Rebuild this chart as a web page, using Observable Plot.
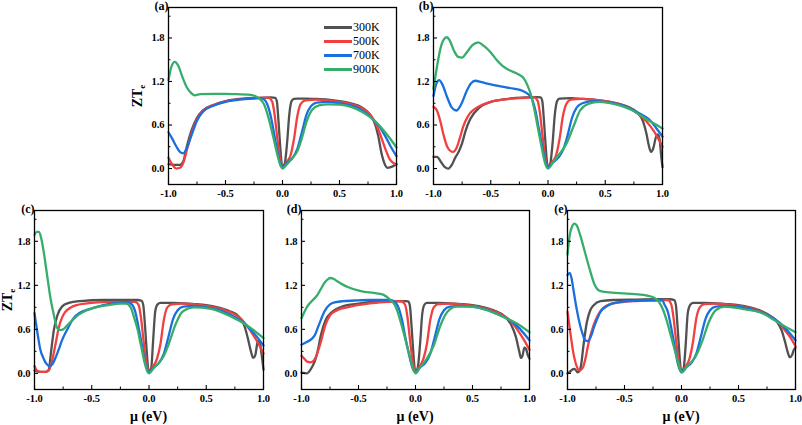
<!DOCTYPE html>
<html><head><meta charset="utf-8">
<script src="https://cdn.jsdelivr.net/npm/d3@7"></script>
<script src="https://cdn.jsdelivr.net/npm/@observablehq/plot@0.6"></script>
<style>
body{margin:0;background:#fff;}
#fig{position:relative;width:802px;height:425px;overflow:hidden;font-family:"Liberation Serif","Times New Roman",serif;color:#000;}
#fig svg{position:absolute;}
.plab{position:absolute;font-weight:bold;font-size:12px;line-height:1;transform:translate(-100%,-50%);}
.ytitle{position:absolute;font-weight:bold;font-size:14px;line-height:1;white-space:nowrap;transform:translate(-50%,-50%) rotate(-90deg);}
.ytitle sub{font-size:9px;vertical-align:-3px;}
.xtitle{position:absolute;font-weight:bold;font-size:14px;line-height:1;white-space:nowrap;transform:translate(-50%,-50%);}
.legend{position:absolute;font-size:12px;font-family:"Liberation Serif","Times New Roman",serif;}
.legend .row{display:flex;align-items:center;height:14.2px;}
.legend .sw{width:28px;height:3px;margin-right:1px;}
</style></head><body><div id="fig"></div>
<script>
const temps = ["300K", "500K", "700K", "900K"];
const colors = ["#515151", "#F14040", "#1A6FDF", "#37AD6B"];
const xTicks = [-1, -0.5, 0, 0.5, 1];
const xMinor = [-0.75, -0.25, 0.25, 0.75];
const yTicks = [0, 0.6, 1.2, 1.8];
const yMinor = [0.3, 0.9, 1.5, 2.1];
const yDomain = [-0.22, 2.22];
const panelNames = ["(a)", "(b)", "(c)", "(d)", "(e)"];

// ---- panel (a) ----
const a300 = [[-1,0.06],[-0.95,0.05],[-0.9,0.05],[-0.87,0.1],[-0.84,0.3],[-0.8,0.52],[-0.75,0.7],[-0.7,0.8],[-0.6,0.88],[-0.5,0.93],[-0.4,0.955],[-0.3,0.97],[-0.2,0.975],[-0.1,0.98],[-0.065,0.975],[-0.05,0.93],[-0.035,0.65],[-0.02,0.3],[-0.007,0.06],[0,0.02],[0.02,0.07],[0.04,0.35],[0.06,0.75],[0.08,0.93],[0.1,0.96],[0.13,0.965],[0.2,0.965],[0.3,0.96],[0.4,0.95],[0.5,0.93],[0.6,0.9],[0.7,0.84],[0.76,0.76],[0.8,0.66],[0.84,0.45],[0.87,0.2],[0.9,0.05],[0.92,0.01],[0.95,0.02],[1,0.06]];
const a500 = [[-1,0.15],[-0.97,0.06],[-0.93,0.0],[-0.9,0.01],[-0.87,0.08],[-0.84,0.25],[-0.8,0.48],[-0.75,0.68],[-0.7,0.79],[-0.6,0.88],[-0.5,0.925],[-0.4,0.95],[-0.3,0.965],[-0.2,0.975],[-0.12,0.975],[-0.09,0.92],[-0.07,0.75],[-0.05,0.48],[-0.03,0.22],[-0.01,0.05],[0,0.02],[0.03,0.08],[0.07,0.18],[0.1,0.4],[0.13,0.72],[0.16,0.89],[0.2,0.94],[0.3,0.95],[0.4,0.94],[0.5,0.92],[0.6,0.89],[0.7,0.83],[0.76,0.76],[0.8,0.67],[0.85,0.5],[0.9,0.28],[0.94,0.13],[0.97,0.08],[1,0.06]];
const a700 = [[-1,0.5],[-0.97,0.42],[-0.93,0.3],[-0.9,0.23],[-0.87,0.21],[-0.84,0.28],[-0.8,0.45],[-0.75,0.66],[-0.7,0.78],[-0.6,0.87],[-0.5,0.92],[-0.4,0.945],[-0.3,0.96],[-0.2,0.97],[-0.16,0.95],[-0.13,0.87],[-0.1,0.7],[-0.07,0.45],[-0.04,0.2],[-0.015,0.05],[0,0.02],[0.04,0.08],[0.09,0.15],[0.13,0.27],[0.17,0.5],[0.21,0.74],[0.25,0.86],[0.3,0.91],[0.4,0.92],[0.5,0.9],[0.6,0.87],[0.7,0.8],[0.8,0.67],[0.85,0.58],[0.9,0.45],[0.95,0.3],[1,0.17]];
const a900 = [[-1,1.22],[-0.975,1.4],[-0.945,1.47],[-0.915,1.42],[-0.88,1.27],[-0.84,1.12],[-0.8,1.04],[-0.77,1.01],[-0.72,1.025],[-0.6,1.03],[-0.5,1.03],[-0.4,1.025],[-0.3,1.02],[-0.24,1.0],[-0.2,0.96],[-0.16,0.88],[-0.13,0.74],[-0.1,0.56],[-0.07,0.36],[-0.04,0.16],[-0.015,0.03],[0,0.0],[0.04,0.06],[0.09,0.15],[0.13,0.24],[0.17,0.42],[0.21,0.64],[0.26,0.81],[0.32,0.87],[0.4,0.885],[0.5,0.88],[0.6,0.85],[0.7,0.78],[0.8,0.67],[0.9,0.5],[0.95,0.4],[1,0.29]];

// ---- panel (b) ----
const b300 = [[-1,0.16],[-0.97,0.16],[-0.93,0.08],[-0.9,0.02],[-0.87,0.0],[-0.84,0.05],[-0.81,0.15],[-0.78,0.23],[-0.75,0.35],[-0.72,0.52],[-0.68,0.68],[-0.6,0.84],[-0.5,0.92],[-0.4,0.95],[-0.3,0.97],[-0.2,0.98],[-0.1,0.985],[-0.065,0.98],[-0.05,0.93],[-0.035,0.65],[-0.02,0.3],[-0.007,0.06],[0,0.02],[0.02,0.07],[0.04,0.35],[0.06,0.75],[0.08,0.93],[0.1,0.965],[0.2,0.97],[0.3,0.96],[0.4,0.95],[0.5,0.93],[0.6,0.9],[0.7,0.85],[0.78,0.77],[0.83,0.65],[0.86,0.48],[0.88,0.32],[0.9,0.23],[0.92,0.28],[0.94,0.42],[0.96,0.47],[0.975,0.4],[0.99,0.15],[1,0.02]];
const b500 = [[-1,0.85],[-0.97,0.8],[-0.94,0.65],[-0.91,0.45],[-0.88,0.3],[-0.85,0.24],[-0.83,0.23],[-0.8,0.28],[-0.77,0.42],[-0.74,0.58],[-0.7,0.72],[-0.65,0.81],[-0.6,0.86],[-0.5,0.92],[-0.4,0.95],[-0.3,0.965],[-0.2,0.975],[-0.12,0.98],[-0.09,0.93],[-0.07,0.76],[-0.05,0.48],[-0.03,0.22],[-0.01,0.05],[0,0.02],[0.03,0.08],[0.07,0.18],[0.1,0.4],[0.13,0.72],[0.16,0.89],[0.2,0.95],[0.3,0.96],[0.4,0.95],[0.5,0.93],[0.6,0.9],[0.7,0.84],[0.8,0.74],[0.86,0.65],[0.9,0.57],[0.95,0.45],[1,0.3]];
const b700 = [[-1,1.0],[-0.975,1.17],[-0.95,1.22],[-0.92,1.15],[-0.88,0.98],[-0.84,0.84],[-0.8,0.8],[-0.76,0.88],[-0.71,1.07],[-0.67,1.18],[-0.635,1.21],[-0.58,1.19],[-0.5,1.16],[-0.4,1.13],[-0.3,1.1],[-0.22,1.07],[-0.17,1.02],[-0.14,0.96],[-0.11,0.8],[-0.08,0.55],[-0.05,0.3],[-0.02,0.08],[0,0.02],[0.04,0.08],[0.09,0.15],[0.13,0.25],[0.17,0.45],[0.21,0.7],[0.25,0.84],[0.3,0.9],[0.4,0.93],[0.5,0.92],[0.6,0.89],[0.7,0.84],[0.8,0.76],[0.88,0.68],[0.94,0.57],[1,0.44]];
const b900 = [[-1,1.1],[-0.97,1.4],[-0.94,1.65],[-0.91,1.78],[-0.885,1.81],[-0.86,1.77],[-0.82,1.62],[-0.785,1.54],[-0.75,1.53],[-0.71,1.6],[-0.66,1.7],[-0.61,1.74],[-0.56,1.69],[-0.5,1.6],[-0.45,1.5],[-0.4,1.42],[-0.33,1.35],[-0.26,1.3],[-0.21,1.24],[-0.18,1.15],[-0.15,1.02],[-0.12,0.82],[-0.1,0.66],[-0.075,0.45],[-0.05,0.25],[-0.025,0.07],[0,0.0],[0.05,0.1],[0.1,0.2],[0.16,0.34],[0.22,0.57],[0.28,0.8],[0.35,0.89],[0.45,0.92],[0.6,0.88],[0.74,0.8],[0.86,0.68],[0.95,0.6],[1,0.55]];

// ---- panel (c) ----
const c300 = [[-1,0.04],[-0.95,0.02],[-0.9,0.02],[-0.875,0.05],[-0.855,0.3],[-0.83,0.6],[-0.8,0.79],[-0.76,0.91],[-0.7,0.96],[-0.6,0.985],[-0.4,1.0],[-0.2,1.0],[-0.1,1.0],[-0.065,0.99],[-0.05,0.93],[-0.035,0.65],[-0.02,0.3],[-0.007,0.06],[0,0.02],[0.02,0.08],[0.035,0.42],[0.055,0.85],[0.075,0.94],[0.1,0.96],[0.2,0.96],[0.3,0.955],[0.4,0.945],[0.5,0.93],[0.6,0.9],[0.7,0.85],[0.78,0.78],[0.83,0.66],[0.86,0.5],[0.89,0.3],[0.91,0.21],[0.93,0.26],[0.95,0.44],[0.965,0.45],[0.98,0.3],[1,0.05]];
const c500 = [[-1,0.1],[-0.98,0.04],[-0.95,0.02],[-0.9,0.02],[-0.875,0.04],[-0.85,0.15],[-0.83,0.29],[-0.81,0.45],[-0.79,0.61],[-0.76,0.76],[-0.73,0.84],[-0.68,0.9],[-0.63,0.93],[-0.5,0.96],[-0.4,0.97],[-0.2,0.975],[-0.12,0.975],[-0.09,0.93],[-0.07,0.76],[-0.05,0.48],[-0.03,0.22],[-0.01,0.05],[0,0.02],[0.03,0.08],[0.07,0.2],[0.1,0.4],[0.13,0.73],[0.16,0.9],[0.2,0.94],[0.3,0.95],[0.4,0.94],[0.5,0.92],[0.6,0.89],[0.7,0.84],[0.8,0.75],[0.85,0.66],[0.9,0.55],[0.95,0.42],[1,0.27]];
const c700 = [[-1,0.82],[-0.98,0.61],[-0.95,0.33],[-0.92,0.2],[-0.9,0.14],[-0.87,0.1],[-0.845,0.12],[-0.82,0.2],[-0.79,0.32],[-0.76,0.45],[-0.71,0.61],[-0.66,0.75],[-0.6,0.83],[-0.51,0.88],[-0.4,0.93],[-0.28,0.96],[-0.19,0.97],[-0.15,0.94],[-0.12,0.84],[-0.09,0.62],[-0.06,0.37],[-0.035,0.15],[-0.012,0.04],[0,0.02],[0.04,0.08],[0.09,0.15],[0.13,0.27],[0.17,0.5],[0.21,0.74],[0.25,0.86],[0.3,0.91],[0.4,0.92],[0.5,0.9],[0.6,0.87],[0.7,0.81],[0.8,0.72],[0.86,0.64],[0.92,0.54],[1,0.38]];
const c900 = [[-1,1.89],[-0.98,1.93],[-0.96,1.93],[-0.94,1.83],[-0.92,1.66],[-0.89,1.34],[-0.86,1.02],[-0.83,0.79],[-0.805,0.63],[-0.78,0.59],[-0.75,0.6],[-0.71,0.66],[-0.63,0.78],[-0.51,0.88],[-0.36,0.93],[-0.25,0.95],[-0.2,0.95],[-0.16,0.9],[-0.13,0.76],[-0.1,0.6],[-0.07,0.38],[-0.04,0.16],[-0.015,0.03],[0,0.0],[0.04,0.07],[0.09,0.15],[0.13,0.24],[0.16,0.35],[0.19,0.48],[0.22,0.62],[0.25,0.73],[0.28,0.82],[0.31,0.86],[0.39,0.9],[0.54,0.88],[0.71,0.78],[0.86,0.65],[1,0.48]];

// ---- panel (d) ----
const d300 = [[-1,0.01],[-0.95,0.0],[-0.93,0.03],[-0.91,0.08],[-0.88,0.18],[-0.86,0.29],[-0.83,0.52],[-0.79,0.72],[-0.73,0.84],[-0.66,0.9],[-0.6,0.93],[-0.5,0.95],[-0.4,0.97],[-0.2,0.98],[-0.09,0.985],[-0.065,0.98],[-0.05,0.93],[-0.035,0.65],[-0.02,0.3],[-0.007,0.06],[0,0.02],[0.02,0.08],[0.04,0.4],[0.06,0.82],[0.08,0.94],[0.1,0.96],[0.2,0.96],[0.3,0.955],[0.4,0.945],[0.5,0.93],[0.6,0.9],[0.7,0.85],[0.78,0.78],[0.84,0.66],[0.88,0.5],[0.91,0.3],[0.925,0.21],[0.94,0.25],[0.955,0.35],[0.97,0.33],[0.985,0.25],[1,0.2]];
const d500 = [[-1,0.24],[-0.97,0.19],[-0.95,0.16],[-0.92,0.15],[-0.89,0.18],[-0.86,0.28],[-0.83,0.43],[-0.79,0.66],[-0.75,0.79],[-0.7,0.85],[-0.66,0.88],[-0.6,0.9],[-0.51,0.93],[-0.4,0.955],[-0.25,0.975],[-0.15,0.985],[-0.12,0.98],[-0.09,0.93],[-0.07,0.76],[-0.05,0.48],[-0.03,0.22],[-0.01,0.05],[0,0.02],[0.03,0.08],[0.07,0.2],[0.1,0.4],[0.13,0.73],[0.16,0.9],[0.2,0.945],[0.3,0.95],[0.4,0.94],[0.5,0.92],[0.6,0.89],[0.7,0.84],[0.8,0.76],[0.86,0.67],[0.9,0.58],[0.95,0.46],[1,0.32]];
const d700 = [[-1,0.39],[-0.95,0.43],[-0.91,0.47],[-0.88,0.53],[-0.86,0.61],[-0.83,0.73],[-0.8,0.84],[-0.75,0.94],[-0.7,0.97],[-0.63,0.985],[-0.5,0.995],[-0.4,1.0],[-0.22,1.0],[-0.18,0.97],[-0.15,0.9],[-0.12,0.74],[-0.09,0.5],[-0.06,0.28],[-0.035,0.12],[-0.012,0.03],[0,0.02],[0.04,0.08],[0.09,0.15],[0.13,0.27],[0.17,0.5],[0.21,0.74],[0.25,0.86],[0.3,0.91],[0.4,0.92],[0.5,0.91],[0.6,0.88],[0.7,0.82],[0.8,0.75],[0.86,0.69],[0.92,0.6],[1,0.45]];
const d900 = [[-1,0.75],[-0.95,0.91],[-0.9,1.0],[-0.86,1.07],[-0.83,1.15],[-0.8,1.23],[-0.77,1.28],[-0.75,1.3],[-0.72,1.29],[-0.69,1.26],[-0.6,1.18],[-0.48,1.12],[-0.34,1.09],[-0.28,1.07],[-0.22,1.0],[-0.18,0.93],[-0.155,0.83],[-0.13,0.7],[-0.09,0.47],[-0.045,0.2],[-0.015,0.04],[0,0.0],[0.04,0.08],[0.1,0.2],[0.16,0.38],[0.22,0.66],[0.28,0.84],[0.36,0.91],[0.48,0.91],[0.63,0.86],[0.77,0.77],[0.89,0.68],[1,0.56]];

// ---- panel (e) ----
const e300 = [[-1,0.0],[-0.98,0.02],[-0.96,0.05],[-0.94,0.06],[-0.925,0.04],[-0.91,0.015],[-0.895,0.03],[-0.88,0.12],[-0.86,0.38],[-0.83,0.7],[-0.8,0.86],[-0.77,0.93],[-0.71,0.985],[-0.6,1.0],[-0.4,1.005],[-0.2,1.01],[-0.1,1.01],[-0.065,1.0],[-0.05,0.94],[-0.035,0.65],[-0.02,0.3],[-0.007,0.06],[0,0.02],[0.02,0.08],[0.035,0.35],[0.055,0.82],[0.075,0.93],[0.1,0.96],[0.2,0.96],[0.3,0.955],[0.4,0.945],[0.5,0.93],[0.6,0.9],[0.7,0.85],[0.78,0.78],[0.84,0.7],[0.88,0.58],[0.91,0.42],[0.93,0.3],[0.95,0.22],[0.97,0.25],[0.985,0.32],[1,0.35]];
const e500 = [[-1,0.84],[-0.98,0.61],[-0.95,0.29],[-0.92,0.1],[-0.895,0.04],[-0.88,0.05],[-0.86,0.1],[-0.84,0.22],[-0.82,0.38],[-0.77,0.66],[-0.73,0.8],[-0.7,0.87],[-0.61,0.95],[-0.5,0.975],[-0.4,0.985],[-0.2,0.995],[-0.12,1.0],[-0.09,0.94],[-0.07,0.76],[-0.05,0.48],[-0.03,0.22],[-0.01,0.05],[0,0.02],[0.03,0.08],[0.07,0.2],[0.1,0.42],[0.13,0.75],[0.16,0.9],[0.2,0.945],[0.3,0.95],[0.4,0.94],[0.5,0.92],[0.6,0.89],[0.7,0.84],[0.8,0.76],[0.86,0.68],[0.9,0.6],[0.95,0.5],[1,0.37]];
const e700 = [[-1,1.34],[-0.98,1.37],[-0.965,1.3],[-0.95,1.16],[-0.92,0.88],[-0.89,0.66],[-0.87,0.55],[-0.845,0.45],[-0.82,0.44],[-0.79,0.52],[-0.77,0.62],[-0.74,0.74],[-0.71,0.84],[-0.66,0.91],[-0.61,0.95],[-0.5,0.98],[-0.41,0.99],[-0.17,1.0],[-0.15,0.94],[-0.12,0.84],[-0.09,0.62],[-0.06,0.37],[-0.035,0.15],[-0.012,0.04],[0,0.02],[0.04,0.08],[0.09,0.15],[0.13,0.27],[0.17,0.5],[0.21,0.74],[0.25,0.86],[0.3,0.91],[0.4,0.92],[0.5,0.91],[0.6,0.88],[0.7,0.83],[0.8,0.76],[0.86,0.69],[0.92,0.6],[1,0.45]];
const e900 = [[-1,1.62],[-0.98,1.89],[-0.96,2.0],[-0.94,2.04],[-0.92,2.02],[-0.89,1.89],[-0.845,1.64],[-0.8,1.39],[-0.76,1.2],[-0.71,1.12],[-0.61,1.1],[-0.5,1.09],[-0.41,1.08],[-0.3,1.06],[-0.24,1.03],[-0.2,0.98],[-0.16,0.86],[-0.13,0.72],[-0.11,0.61],[-0.07,0.38],[-0.03,0.15],[-0.01,0.04],[0,0.01],[0.05,0.1],[0.12,0.22],[0.18,0.43],[0.24,0.7],[0.3,0.86],[0.38,0.91],[0.53,0.88],[0.71,0.82],[0.82,0.72],[0.94,0.61],[1,0.56]];

const panelSeries = [
  [a300, a500, a700, a900],
  [b300, b500, b700, b900],
  [c300, c500, c700, c900],
  [d300, d500, d700, d900],
  [e300, e500, e700, e900]
];
// layout (frame boxes in page pixels)
const frames = [
  {l:168, t:7,   w:228, h:177, ytitle:true,  xtitle:false},
  {l:433, t:7,   w:229, h:177, ytitle:false, xtitle:false},
  {l:34,  t:210, w:229, h:179, ytitle:true,  xtitle:true},
  {l:301, t:210, w:228, h:179, ytitle:false, xtitle:true},
  {l:567, t:210, w:228, h:179, ytitle:false, xtitle:true}
];

const fig = document.getElementById("fig");
const fmt = d => d.toFixed(1);

frames.forEach((f, pi) => {
  const ML = 40, MR = 4, MT = 4, MB = 22;
  const rows = panelSeries[pi].flatMap((s, i) => s.map(([mu, zt]) => ({mu, zt, T: temps[i]})));
  const kx = 2 / f.w, ky = (yDomain[1] - yDomain[0]) / f.h;
  const y0 = yDomain[0];
  const svg = Plot.plot({
    width: f.w + ML + MR, height: f.h + MT + MB,
    marginLeft: ML, marginRight: MR, marginTop: MT, marginBottom: MB,
    x: {domain: [-1, 1]},
    y: {domain: yDomain},
    color: {domain: temps, range: colors},
    style: {fontFamily: '"Liberation Serif","Times New Roman",serif', fontSize: "10.5px", fontWeight: "bold", color: "#000", background: "transparent", overflow: "visible"},
    marks: [
      Plot.line(rows, {x: "mu", y: "zt", z: "T", stroke: "T", strokeWidth: 2.3, curve: "monotone-x"}),
      Plot.ruleX(xTicks, {x: d => d, y1: y0, y2: y0 + 4 * ky, stroke: "#000", strokeWidth: 1.1}),
      Plot.ruleX(xMinor, {x: d => d, y1: y0, y2: y0 + 2.5 * ky, stroke: "#000", strokeWidth: 1}),
      Plot.ruleY(yTicks, {y: d => d, x1: -1, x2: -1 + 4 * kx, stroke: "#000", strokeWidth: 1.1}),
      Plot.ruleY(yMinor, {y: d => d, x1: -1, x2: -1 + 2.5 * kx, stroke: "#000", strokeWidth: 1}),
      Plot.axisX({ticks: xTicks, tickFormat: fmt, tickSize: 0, tickPadding: 5, label: null}),
      Plot.axisY({ticks: yTicks, tickFormat: fmt, tickSize: 0, tickPadding: 4, label: null}),
      Plot.frame({stroke: "#000", strokeWidth: 1.3})
    ]
  });
  svg.style.left = (f.l - ML) + "px";
  svg.style.top = (f.t - MT) + "px";
  fig.appendChild(svg);

  const lab = document.createElement("div");
  lab.className = "plab";
  lab.textContent = panelNames[pi];
  lab.style.left = (f.l + 0.5) + "px";
  lab.style.top = (f.t - 1.5) + "px";
  fig.appendChild(lab);

  if (f.ytitle) {
    const yt = document.createElement("div");
    yt.className = "ytitle";
    yt.innerHTML = "ZT<sub>e</sub>";
    yt.style.left = Math.max(f.l - 29, 9) + "px";
    yt.style.top = (f.t + f.h / 2) + "px";
    fig.appendChild(yt);
  }
  if (f.xtitle) {
    const xt = document.createElement("div");
    xt.className = "xtitle";
    xt.textContent = "μ (eV)";
    xt.style.left = (f.l + f.w / 2) + "px";
    xt.style.top = (f.t + f.h + 28) + "px";
    fig.appendChild(xt);
  }
});

// legend in panel (a)
const leg = document.createElement("div");
leg.className = "legend";
leg.style.left = "324px";
leg.style.top = "20px";
temps.forEach((t, i) => {
  const row = document.createElement("div");
  row.className = "row";
  const sw = document.createElement("span");
  sw.className = "sw";
  sw.style.background = colors[i];
  const tx = document.createElement("span");
  tx.textContent = t;
  row.appendChild(sw); row.appendChild(tx);
  leg.appendChild(row);
});
fig.appendChild(leg);
</script></body></html>
